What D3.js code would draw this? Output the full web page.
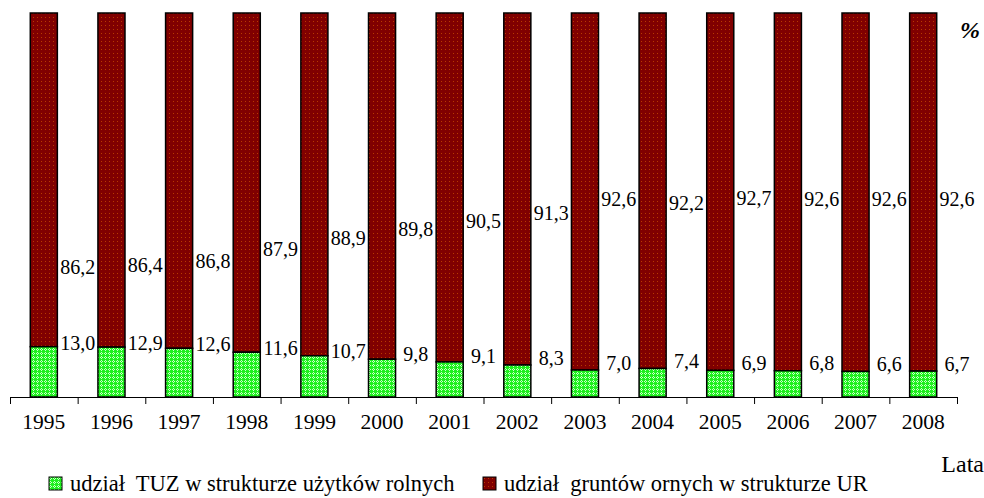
<!DOCTYPE html>
<html>
<head>
<meta charset="utf-8">
<script src="https://cdn.jsdelivr.net/npm/d3@7"></script>
<style>
  body { margin: 0; background: #fff; }
</style>
</head>
<body>
<script>
var years = ["1995","1996","1997","1998","1999","2000","2001","2002","2003","2004","2005","2006","2007","2008"];
var tuzShare = [13.0, 12.9, 12.6, 11.6, 10.7, 9.8, 9.1, 8.3, 7.0, 7.4, 6.9, 6.8, 6.6, 6.7];
var arableShare = [86.2, 86.4, 86.8, 87.9, 88.9, 89.8, 90.5, 91.3, 92.6, 92.2, 92.7, 92.6, 92.6, 92.6];
var seriesNames = ["udział  TUZ w strukturze użytków rolnych", "udział  gruntów ornych w strukturze UR"];

var W = 984, H = 498;
var FONT = "'Liberation Serif', 'Times New Roman', Times, 'DejaVu Serif', serif";
var svg = d3.select("body").append("svg").attr("width", W).attr("height", H)
  .attr("font-family", FONT);

// patterns
var defs = svg.append("defs");
var pr = defs.append("pattern").attr("id", "pRed").attr("patternUnits", "userSpaceOnUse")
    .attr("width", 4).attr("height", 4);
pr.append("rect").attr("width", 4).attr("height", 4).attr("fill", "#800000");
pr.append("rect").attr("x", 1).attr("y", 1).attr("width", 1).attr("height", 1).attr("fill", "#b83a00");
var pg = defs.append("pattern").attr("id", "pGreen").attr("patternUnits", "userSpaceOnUse")
    .attr("width", 4).attr("height", 4);
pg.append("rect").attr("width", 4).attr("height", 4).attr("fill", "#1ef01e");
pg.append("rect").attr("x", 1).attr("y", 0).attr("width", 1).attr("height", 1).attr("fill", "#c8ffc8");
pg.append("rect").attr("x", 0).attr("y", 1).attr("width", 1).attr("height", 1).attr("fill", "#c8ffc8");
pg.append("rect").attr("x", 2).attr("y", 1).attr("width", 1).attr("height", 1).attr("fill", "#c8ffc8");
pg.append("rect").attr("x", 1).attr("y", 2).attr("width", 1).attr("height", 1).attr("fill", "#c8ffc8");

var x0 = 10, x1 = 957, yBase = 397, yTop = 13;
var x = d3.scaleBand().domain(years).range([x0, x1]).paddingInner(0.6).paddingOuter(0.3);
var y = d3.scaleLinear().domain([0, 1]).range([yBase, yTop]);

var rows = years.map(function (yr, i) {
  var t = tuzShare[i] + arableShare[i];
  return { year: yr, g: tuzShare[i], r: arableShare[i], gf: tuzShare[i] / t };
});

// bars: green bottom, red top
svg.selectAll(".barR").data(rows).enter().append("rect")
  .attr("x", function (d) { return x(d.year); })
  .attr("width", x.bandwidth())
  .attr("y", y(1))
  .attr("height", function (d) { return y(d.gf) - y(1); })
  .attr("fill", "url(#pRed)").attr("stroke", "#000").attr("stroke-width", 1.5);
svg.selectAll(".barG").data(rows).enter().append("rect")
  .attr("x", function (d) { return x(d.year); })
  .attr("width", x.bandwidth())
  .attr("y", function (d) { return y(d.gf); })
  .attr("height", function (d) { return y(0) - y(d.gf); })
  .attr("fill", "url(#pGreen)").attr("stroke", "#000").attr("stroke-width", 1.5);

// axis line with ticks at category boundaries
var idx = d3.scaleLinear().domain([0, years.length]).range([x0, x1]);
var ax = svg.append("g").attr("transform", "translate(0," + yBase + ")")
  .call(d3.axisBottom(idx).ticks(years.length).tickSize(7).tickSizeOuter(0).tickFormat(""));
ax.select(".domain").attr("stroke", "#000");
ax.selectAll(".tick line").attr("stroke", "#000");

var lab = svg.append("g").attr("transform", "translate(0," + (yBase + 9) + ")")
  .call(d3.axisBottom(x).tickSize(0).tickPadding(8));
lab.attr("font-family", FONT).attr("font-size", 21.5);
lab.select(".domain").remove();
lab.selectAll("text").attr("fill", "#000");

// value labels
var fmt = function (v) { return v.toFixed(1).replace(".", ","); };
var redLabY = d3.scaleLinear().domain([86.2, 92.6]).range([267, 199]);
var greenLabY = d3.scaleLinear().domain([6.6, 13.0]).range([364, 343]);
var labX = function (d) { return x(d.year) + x.bandwidth() + x.step() * 0.3; };
svg.selectAll(".lr").data(rows).enter().append("text")
  .attr("x", labX)
  .attr("y", function (d) { return redLabY(d.r); })
  .attr("dy", "0.35em").attr("text-anchor", "middle").attr("font-size", 20)
  .text(function (d) { return fmt(d.r); });
svg.selectAll(".lg").data(rows).enter().append("text")
  .attr("x", labX)
  .attr("y", function (d) { return greenLabY(d.g); })
  .attr("dy", "0.35em").attr("text-anchor", "middle").attr("font-size", 20)
  .text(function (d) { return fmt(d.g); });

// unit labels
svg.append("text").attr("x", 970).attr("y", 38).attr("text-anchor", "middle")
  .attr("font-size", 24).attr("font-weight", "bold").attr("font-style", "italic").text("%");
svg.append("text").attr("x", 984).attr("y", 472).attr("text-anchor", "end")
  .attr("font-size", 24).text("Lata");

// legend
var legX = [49, 483];
var legFill = ["url(#pGreen)", "url(#pRed)"];
var leg = svg.selectAll(".leg").data(seriesNames).enter().append("g")
  .attr("transform", function (d, i) { return "translate(" + legX[i] + ",477)"; });
leg.append("rect").attr("width", 13).attr("height", 13)
  .attr("fill", function (d, i) { return legFill[i]; }).attr("stroke", "#000");
leg.append("text").attr("x", 21).attr("y", 14).attr("font-size", 22.5)
  .attr("xml:space", "preserve").style("white-space", "pre")
  .text(function (d) { return d; });
</script>
</body>
</html>
